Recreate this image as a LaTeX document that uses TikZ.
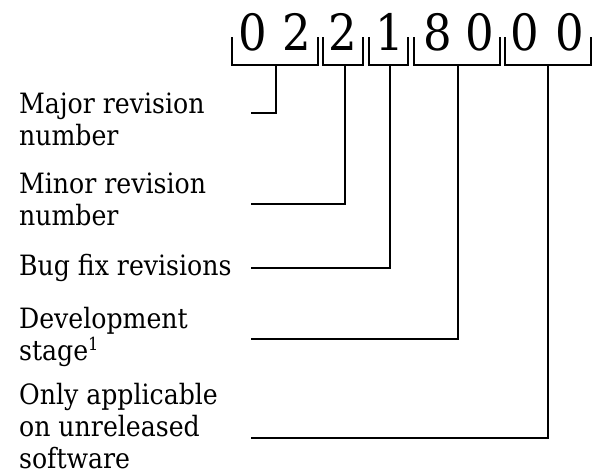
\documentclass[tikz,border=0pt]{standalone}
\usepackage{fontspec}
\setmainfont{DejaVu Serif Condensed}
\newcommand{\supone}{\raisebox{10pt}{\fontsize{18}{18}\selectfont 1}}
\begin{document}
\begin{tikzpicture}[x=1pt,y=-1pt,line width=2.2pt,
  digit/.style={font=\fontsize{50}{50}\selectfont, inner sep=0pt, anchor=base},
  lbl/.style={font=\fontsize{28}{32}\selectfont, align=left, anchor=base west, inner sep=0pt},
  brk/.style={draw, line width=2.2pt},
  conn/.style={draw, line width=2.2pt}]
\useasboundingbox (0,0) rectangle (597,475);
% digits
\node[digit] (d1) at (253,50) {0};
\node[digit] (d2) at (297,50) {2};
\node[digit] (d3) at (343,50) {2};
\node[digit] (d4) at (390,50) {1};
\node[digit] (d5) at (438,50) {8};
\node[digit] (d6) at (480,50) {0};
\node[digit] (d7) at (525,50) {0};
\node[digit] (d8) at (570,50) {0};
% brackets
\path[brk] (232,37) -- (232,65) -- (318,65) -- (318,37);
\path[brk] (323,37) -- (323,65) -- (363,65) -- (363,37);
\path[brk] (369,37) -- (369,65) -- (408,65) -- (408,37);
\path[brk] (414,37) -- (414,65) -- (500,65) -- (500,37);
\path[brk] (505,37) -- (505,65) -- (591,65) -- (591,37);
\coordinate (s1) at (276,65);
\coordinate (s2) at (345,65);
\coordinate (s3) at (390,65);
\coordinate (s4) at (458,65);
\coordinate (s5) at (548,65);
% labels (base anchor = baseline of last line)
\node[lbl] (l1) at (18,145) {Major revision\\number};
\node[lbl] (l2) at (18,225) {Minor revision\\number};
\node[lbl] (l3) at (18,275) {Bug fix revisions};
\node[lbl] (l4) at (18,360) {Development\\stage\supone};
\node[lbl] (l5) at (18,468) {Only applicable\\on unreleased\\software};
\coordinate (e1) at (251,113);
\coordinate (e2) at (251,204);
\coordinate (e3) at (251,268);
\coordinate (e4) at (251,339);
\coordinate (e5) at (251,438);
% connectors
\path[conn] (s1) |- (e1);
\path[conn] (s2) |- (e2);
\path[conn] (s3) |- (e3);
\path[conn] (s4) |- (e4);
\path[conn] (s5) |- (e5);
\end{tikzpicture}
\end{document}
